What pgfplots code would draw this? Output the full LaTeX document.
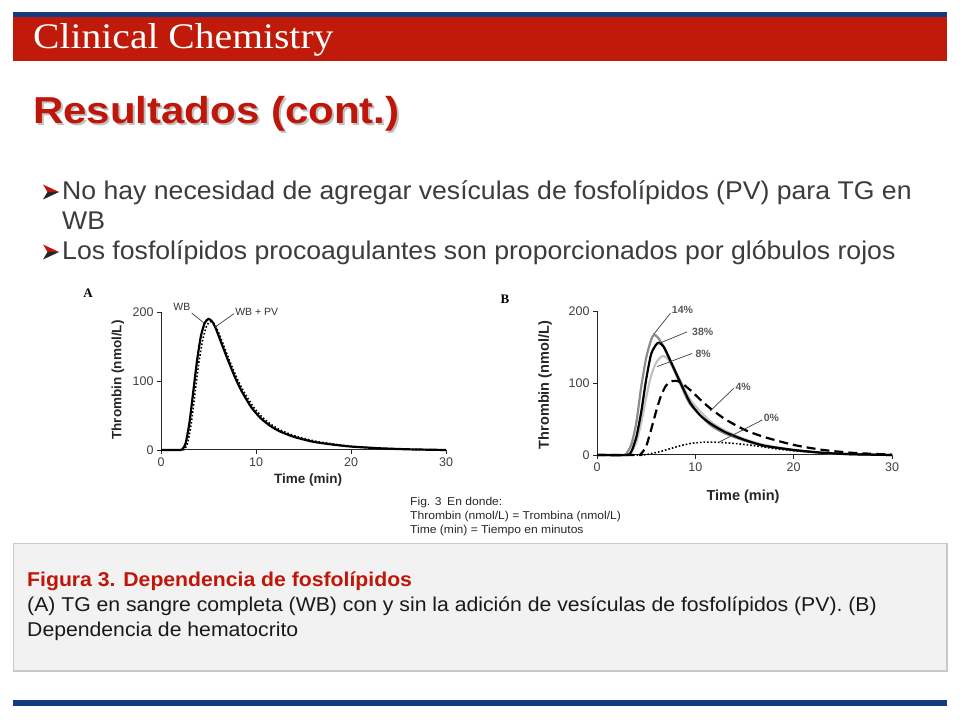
\documentclass[border=0pt]{standalone}
\usepackage{pgfplots}
\pgfplotsset{compat=1.18}
\usepackage{fontspec}
\setmainfont{Liberation Sans}
\newfontfamily\garfont[FakeStretch=1.1]{Liberation Serif}
\newfontfamily\plainserif{Liberation Serif}
\newfontfamily\ttlfont[FakeStretch=1.12]{Liberation Sans}
\newfontfamily\bulfont[FakeStretch=1.04]{Liberation Sans}
\newfontfamily\boxfont[FakeStretch=1.06]{Liberation Sans}
\newfontfamily\capfont[FakeStretch=1.06]{Liberation Sans}
\definecolor{hdrred}{RGB}{192,26,10}
\definecolor{hdrblue}{RGB}{22,58,130}
\definecolor{ttlred}{RGB}{192,22,10}
\definecolor{txtgray}{RGB}{60,60,60}
\definecolor{boxgray}{RGB}{242,242,242}
\definecolor{boxline}{RGB}{200,200,200}
\definecolor{midgray}{RGB}{140,140,140}
\definecolor{lightgray}{RGB}{195,195,195}
\newcommand{\fs}[1]{\fontsize{#1}{#1}\selectfont}
\pgfplotsset{slidestyle/.style={
  scale only axis, xmin=0, xmax=30, ymin=0, ymax=200,
  axis x line=bottom, axis y line=left,
  axis line style={-, line width=1pt, black!85},
  xtick={0,10,20,30}, ytick={0,100,200},
  tick align=outside, major tick length=4pt,
  tick style={line width=0.8pt, black!85},
  ticklabel style={font=\fs{12.5}, text=black!75},
  /pgf/number format/assume math mode=true,
  clip=false, enlargelimits=false,
  label style={font=\bfseries\fs{13.5}, text=black!85},
}}
\begin{document}
\begin{tikzpicture}[x=1pt,y=1pt]
\useasboundingbox (0,0) rectangle (960,720);
\fill[white] (0,0) rectangle (960,720);
% header
\fill[hdrblue] (13,720-17) rectangle (947,720-12);
\fill[hdrred] (13,720-61.5) rectangle (947,720-17);
\node[anchor=base west, inner sep=0, text=white] at (33,720-48.5) {\garfont\fs{36}Clinical Chemistry};
% title
\node[anchor=base west, inner sep=0, text=black!25] at (35,720-125.5) {\ttlfont\bfseries\fs{37.5}Resultados (cont.)};
\node[anchor=base west, inner sep=0, text=ttlred] at (33,720-123.3) {\ttlfont\bfseries\fs{37.5}Resultados (cont.)};
% bullets
\foreach \yy in {192,252} {
  \fill[ttlred] (43,720-\yy+7.5) -- (59,720-\yy) -- (47.5,720-\yy) -- cycle;
  \fill[black!85] (47.5,720-\yy) -- (59,720-\yy) -- (43,720-\yy-7.5) -- cycle;
}
\node[anchor=base west, inner sep=0, text=txtgray] at (62,720-200) {\bulfont\fs{25.6}No hay necesidad de agregar vesículas de fosfolípidos (PV) para TG en};
\node[anchor=base west, inner sep=0, text=txtgray] at (62,720-230) {\bulfont\fs{25.6}WB};
\node[anchor=base west, inner sep=0, text=txtgray] at (62,720-260) {\bulfont\fs{25.6}Los fosfolípidos procoagulantes son proporcionados por glóbulos rojos};
% panel letters
\node[anchor=center, inner sep=0] at (88,720-293) {\plainserif\bfseries\fs{13}A};
\node[anchor=center, inner sep=0] at (505,720-299) {\plainserif\bfseries\fs{13}B};
% Panel A
\begin{axis}[slidestyle, at={(161pt,270pt)}, anchor=south west, width=285pt, height=138pt,
  xlabel={Time (min)}, ylabel={Thrombin (nmol/L)},
  x label style={at={(axis description cs:0.516,-0.217)}, anchor=center},
  y label style={at={(axis description cs:-0.151,0.507)}, anchor=center, rotate=0}]
\addplot[black, line width=2.2pt, smooth, tension=0.4] coordinates {
(0,0) (2,0) (2.3,2) (2.6,10) (3,40) (3.4,85) (3.8,130) (4.2,165) (4.6,184) (5.0,190) (5.4,186) (5.8,175) (6.3,157) (7,132) (7.8,105) (8.5,85) (9.5,62) (10.5,46) (11.5,35) (12.5,27) (14,19) (16,12) (18,8) (20,5) (23,2.5) (26,1) (30,0)};
\addplot[black, line width=1.6pt, dotted, smooth, tension=0.4] coordinates {
(0,0) (2.2,0) (2.5,2) (2.8,10) (3.2,40) (3.6,85) (4.0,128) (4.4,160) (4.8,180) (5.2,186) (5.6,183) (6.0,172) (6.5,155) (7.2,130) (8,104) (8.7,85) (9.7,63) (10.7,47) (11.7,36) (12.7,28) (14.2,20) (16.2,13) (18.2,8.5) (20.2,5) (23.2,2.5) (26.2,1) (30,0)};
\draw[black!75, line width=0.7pt] (axis cs:3.23,198.5) -- (axis cs:4.53,184);
\draw[black!75, line width=0.7pt] (axis cs:7.68,197.6) -- (axis cs:5.68,178);
\node[font=\fs{10.5}, text=black!80, inner sep=0] at (axis cs:2.2,207) {WB};
\node[font=\fs{10.5}, text=black!80, inner sep=0, anchor=west] at (axis cs:7.8,200) {WB + PV};
\end{axis}
% Panel B
\begin{axis}[slidestyle, at={(597pt,265pt)}, anchor=south west, width=295pt, height=144pt,
  xlabel={Time (min)}, ylabel={Thrombin (nmol/L)},
  label style={font=\bfseries\fs{14.5}},
  x label style={at={(axis description cs:0.495,-0.29)}, anchor=center},
  y label style={at={(axis description cs:-0.176,0.486)}, anchor=center, rotate=0}]
\addplot[lightgray, line width=2.2pt, smooth, tension=0.4] coordinates {
(0,0) (3.2,0) (3.5,4) (4,18) (4.5,45) (5,80) (5.5,110) (6,128) (6.6,137) (7,136) (7.5,128) (8.5,103) (9.5,76) (11.5,47) (13,34) (15,22) (17,14) (20,7) (23,3) (26,1) (30,0)};
\addplot[midgray, line width=2.2pt, smooth, tension=0.4] coordinates {
(0,0) (2.7,0) (3,2) (3.5,15) (4,45) (4.5,95) (5,135) (5.5,160) (5.8,167) (6.2,163) (6.8,150) (7.5,128) (8.5,98) (9.5,70) (11.5,42) (13,30) (15,20) (17,12.5) (20,6.5) (23,3) (26,1) (30,0)};
\addplot[black, line width=2.2pt, smooth, tension=0.4] coordinates {
(0,0) (3,0) (3.5,5) (4,25) (4.5,60) (5,105) (5.5,140) (6.0,153) (6.3,156) (6.8,150) (7.5,130) (8.5,100) (9.5,72) (10.5,55) (11.5,44) (13,32) (15,21) (17,13) (20,7) (23,3) (26,1) (30,0)};
\addplot[black, line width=2.2pt, dash pattern=on 9pt off 5pt, smooth, tension=0.4] coordinates {
(0,0) (4.3,0) (4.5,2) (5,12) (5.5,35) (6,60) (6.5,82) (7,96) (7.5,102) (8,103) (8.5,101) (9.5,90) (10.5,77) (11.5,65) (13,50) (15,35) (17,25) (20,14) (23,7) (26,3) (30,0.5)};
\addplot[black, line width=1.6pt, dotted, smooth, tension=0.4] coordinates {
(0,0) (4.5,0) (5.5,2) (6.5,5) (7.5,9) (8.5,13) (9.5,16) (10.5,17.5) (11.5,18) (12.5,17.5) (14,16) (16,13) (18,9) (20,6) (22,4) (24,2) (27,1) (30,0)};
\draw[black!75, line width=0.7pt] (axis cs:5.76,167.6) -- (axis cs:7.46,196.8);
\draw[black!75, line width=0.7pt] (axis cs:6.1,153.7) -- (axis cs:9.15,171);
\draw[black!75, line width=0.7pt] (axis cs:6.1,122.7) -- (axis cs:9.66,141);
\draw[black!75, line width=0.7pt] (axis cs:11.5,61) -- (axis cs:13.9,92.6);
\draw[black!75, line width=0.7pt] (axis cs:12.5,18.5) -- (axis cs:16.8,48.6);
\node[font=\bfseries\fs{10.5}, text=black!65, inner sep=0, anchor=west] at (axis cs:7.6,201) {14\%};
\node[font=\bfseries\fs{10.5}, text=black!65, inner sep=0, anchor=west] at (axis cs:9.66,171) {38\%};
\node[font=\bfseries\fs{10.5}, text=black!65, inner sep=0, anchor=west] at (axis cs:10.0,140) {8\%};
\node[font=\bfseries\fs{10.5}, text=black!65, inner sep=0, anchor=west] at (axis cs:14.07,95) {4\%};
\node[font=\bfseries\fs{10.5}, text=black!65, inner sep=0, anchor=west] at (axis cs:16.95,51) {0\%};
\end{axis}
% small caption
\node[anchor=base west, inner sep=0, text=black!85] at (410,720-506) {\capfont\fs{11.4}Fig. 3\enspace En donde:};
\node[anchor=base west, inner sep=0, text=black!85] at (410,720-520) {\capfont\fs{11.4}Thrombin (nmol/L) = Trombina (nmol/L)};
\node[anchor=base west, inner sep=0, text=black!85] at (410,720-534) {\capfont\fs{11.4}Time (min) = Tiempo en minutos};
% gray box
\filldraw[fill=boxgray, draw=boxline, line width=1.2pt] (13.5,720-671) rectangle (947,720-543.5);
\node[anchor=base west, inner sep=0, text=ttlred] at (27,720-586) {\boxfont\bfseries\fs{20}Figura 3. Dependencia de fosfolípidos};
\node[anchor=base west, inner sep=0, text=black!90] at (27,720-611) {\boxfont\fs{20}(A) TG en sangre completa (WB) con y sin la adición de vesículas de fosfolípidos (PV). (B)};
\node[anchor=base west, inner sep=0, text=black!90] at (27,720-636) {\boxfont\fs{20}Dependencia de hematocrito};
% bottom line
\fill[hdrblue] (13,720-706) rectangle (947,720-700);
\end{tikzpicture}
\end{document}
